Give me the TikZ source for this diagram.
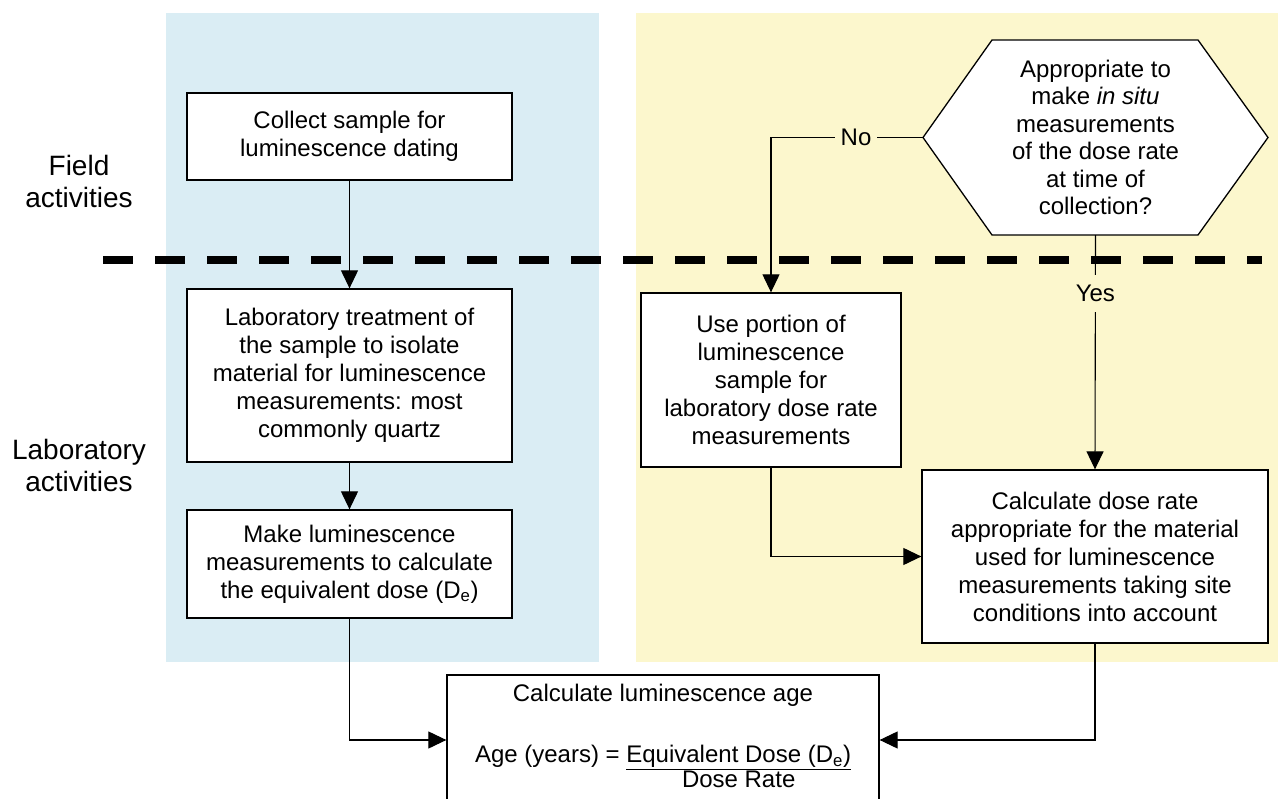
\documentclass[tikz,border=0pt]{standalone}
\usepackage{fontspec}
\setmainfont{Liberation Sans}
\usepackage{xcolor}
\usepackage{tikz}
\usetikzlibrary{arrows.meta}
\definecolor{fieldblue}{RGB}{218,237,244}
\definecolor{labyellow}{RGB}{252,247,205}

\begin{document}
\begin{tikzpicture}[x=1pt,y=-1pt,
  procbox/.style={draw, line width=1.3pt, fill=white, align=center,
    font=\fontsize{24}{28}\selectfont},
  sidelabel/.style={align=center, font=\fontsize{28}{32}\selectfont},
  flow/.style={line width=1.1pt, -{Triangle[length=18pt,width=17pt]}},
  answer/.style={fill=labyellow, inner xsep=6pt, inner ysep=10pt,
    font=\fontsize{24}{28}\selectfont}]
\useasboundingbox (0,0) rectangle (1278,799);
% coloured panels
\fill[fieldblue] (166,13) rectangle (599,662);
\fill[labyellow] (636,13) rectangle (1278,662);
% field / laboratory divider
\draw[line width=8pt, dash pattern=on 30pt off 22pt] (103,260) -- (1262,260);
\node[sidelabel] (fieldlbl) at (79,181) {Field\\activities};
\node[sidelabel] (lablbl) at (79,465) {Laboratory\\activities};
% sample branch
\node[procbox, minimum width=325pt, minimum height=87pt] (collect) at (349.5,136.5)
  {Collect sample for\\luminescence dating};
\node[procbox, minimum width=325pt, minimum height=173pt] (labtreat) at (349.5,375.5)
  {Laboratory treatment of\\the sample to isolate\\material for luminescence\\measurements: most\\commonly quartz};
\node[procbox, minimum width=325pt, minimum height=108pt] (makelum) at (349.5,564)
  {Make luminescence\\measurements to calculate\\the equivalent dose (D\textsubscript{e})};
% dose rate branch
\draw[line width=1.3pt, fill=white] (923,137.5) -- (992,40) -- (1198,40) -- (1268,137.5)
  -- (1198,235) -- (992,235) -- cycle;
\node[align=center, font=\fontsize{24}{27.5}\selectfont, minimum width=345pt, minimum height=195pt] (hex) at (1095.5,137.5)
  {Appropriate to\\make \textit{in situ}\\measurements\\of the dose rate\\at time of\\collection?};
\node[procbox, minimum width=260pt, minimum height=174pt] (useportion) at (771,380)
  {Use portion of\\luminescence\\sample for\\laboratory dose rate\\measurements};
\node[procbox, minimum width=346pt, minimum height=173pt] (calcdose) at (1095,556.5)
  {Calculate dose rate\\appropriate for the material\\used for luminescence\\measurements taking site\\conditions into account};
% result
\node[procbox, minimum width=432pt, minimum height=130pt] (agebox) at (663,740)
  {Calculate luminescence age\\[33pt]Age (years) = \begin{tabular}[t]{@{}c@{}}\underline{Equivalent Dose (D\textsubscript{e})}\\[-3pt]Dose Rate\end{tabular}};
% connectors
\draw[flow] (collect) -- (labtreat);
\draw[flow] (labtreat) -- (makelum);
\draw[flow] (makelum.south) |- (agebox.west);
\draw[flow] (hex.west) -| node[answer, pos=0.22] {No} (useportion.north);
\draw[flow] (hex.south) -- node[answer, pos=0.25] {Yes} (calcdose.north);
\draw[flow] (useportion.south) |- (calcdose.west);
\draw[flow] (calcdose.south) |- (agebox.east);
\end{tikzpicture}
\end{document}
